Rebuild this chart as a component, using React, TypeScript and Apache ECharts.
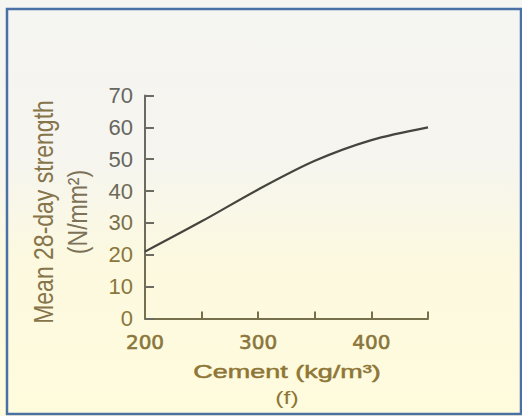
import React, { useEffect, useRef } from "react";
import * as echarts from "echarts";

const cementKg = [200, 250, 300, 350, 400, 450];
const strength = [21, 30.5, 40.5, 49.5, 56, 60];
const yTicks = [0, 10, 20, 30, 40, 50, 60, 70];
const xLabelValues = [200, 300, 400];

const yTitle = "Mean 28-day strength";
const yUnit = "(N/mm²)";
const xTitle = "Cement (kg/m³)";
const panelLabel = "(f)";

export default function App() {
  const ref = useRef<HTMLDivElement>(null);
  useEffect(() => {
    document.body.style.margin = "0";
    const chart = echarts.init(ref.current!, null, { renderer: "svg" });
    const gold = "#8a763c";
    const goldTitle = "#8e7636";
    const gray = "#666660";
    const font = "Liberation Sans, Arial, sans-serif";
    const yLabelColor = (v: any) => {
      const n = Number(v);
      if (n >= 50) return gray;
      if (n === 40) return "#6d6a58";
      if (n === 30) return "#79704c";
      return gold;
    };
    const heavy = (c: string) => ({ textBorderColor: c, textBorderWidth: 0.6 });
    chart.setOption({
      animation: false,
      backgroundColor: {
        type: "linear",
        x: 0, y: 0, x2: 0, y2: 1,
        colorStops: [
          { offset: 0, color: "#f5f5f2" },
          { offset: 0.38, color: "#f6f5ef" },
          { offset: 0.62, color: "#fcf9e0" },
          { offset: 1, color: "#fffbdd" },
        ],
      },
      grid: { left: 145, top: 95.5, width: 283, height: 223, containLabel: false },
      xAxis: {
        type: "value",
        min: cementKg[0],
        max: cementKg[cementKg.length - 1],
        interval: 50,
        axisLine: { show: true, lineStyle: { color: "#77704c", width: 2 } },
        axisTick: { show: true, inside: true, length: 7, lineStyle: { color: "#77704c", width: 2 } },
        splitLine: { show: false },
        axisLabel: {
          color: gold,
          fontSize: 20,
          fontFamily: "DejaVu Sans, Verdana, sans-serif",
          margin: 13,
          ...heavy(gold),
          formatter: (v: number) => (xLabelValues.includes(v) ? String(v) : ""),
        },
      },
      yAxis: {
        type: "value",
        min: yTicks[0],
        max: yTicks[yTicks.length - 1],
        interval: 10,
        axisLine: {
          show: true,
          lineStyle: {
            color: new echarts.graphic.LinearGradient(
              0, 95, 0, 319,
              [
                { offset: 0, color: "#6a6a65" },
                { offset: 0.5, color: "#6c6a60" },
                { offset: 1, color: "#77704c" },
              ],
              true
            ),
            width: 2,
          },
        },
        axisTick: { show: true, inside: true, length: 9, lineStyle: { color: "#6c6b62", width: 2 } },
        splitLine: { show: false },
        axisLabel: {
          color: yLabelColor,
          fontSize: 22,
          fontFamily: font,
          margin: 12,
        },
      },
      series: [
        {
          type: "line",
          data: cementKg.map((x, i) => [x, strength[i]]),
          smooth: 0.3,
          showSymbol: false,
          lineStyle: { color: "#45443e", width: 2.2 },
        },
      ],
      graphic: [
        {
          type: "rect",
          shape: { x: 7, y: 9, width: 514, height: 405 },
          style: { fill: "none", stroke: "#4a71a6", lineWidth: 2.5 },
          silent: true,
        },
        {
          type: "text",
          x: 43,
          y: 212,
          rotation: Math.PI / 2,
          scaleY: 1.2,
          style: {
            text: yTitle,
            fill: "#86744a",
            fontSize: 23,
            fontFamily: font,
            align: "center",
            verticalAlign: "middle",
          },
        },
        {
          type: "text",
          x: 77,
          y: 212,
          rotation: Math.PI / 2,
          scaleY: 1.2,
          style: {
            text: yUnit,
            fill: "#7d7258",
            fontSize: 23,
            fontFamily: font,
            align: "center",
            verticalAlign: "middle",
          },
        },
        {
          type: "text",
          x: 287,
          y: 371,
          scaleX: 1.42,
          style: {
            text: xTitle,
            fill: goldTitle,
            stroke: goldTitle,
            lineWidth: 0.5,
            fontSize: 19,
            fontFamily: font,
            align: "center",
            verticalAlign: "middle",
          },
        },
        {
          type: "text",
          x: 287,
          y: 398,
          scaleX: 1.3,
          style: {
            text: panelLabel,
            fill: goldTitle,
            fontSize: 19,
            fontFamily: font,
            align: "center",
            verticalAlign: "middle",
          },
        },
      ],
    });
    return () => chart.dispose();
  }, []);
  return (
    <div
      ref={ref}
      style={{ position: "fixed", left: 0, top: 0, width: 522, height: 416 }}
    />
  );
}
